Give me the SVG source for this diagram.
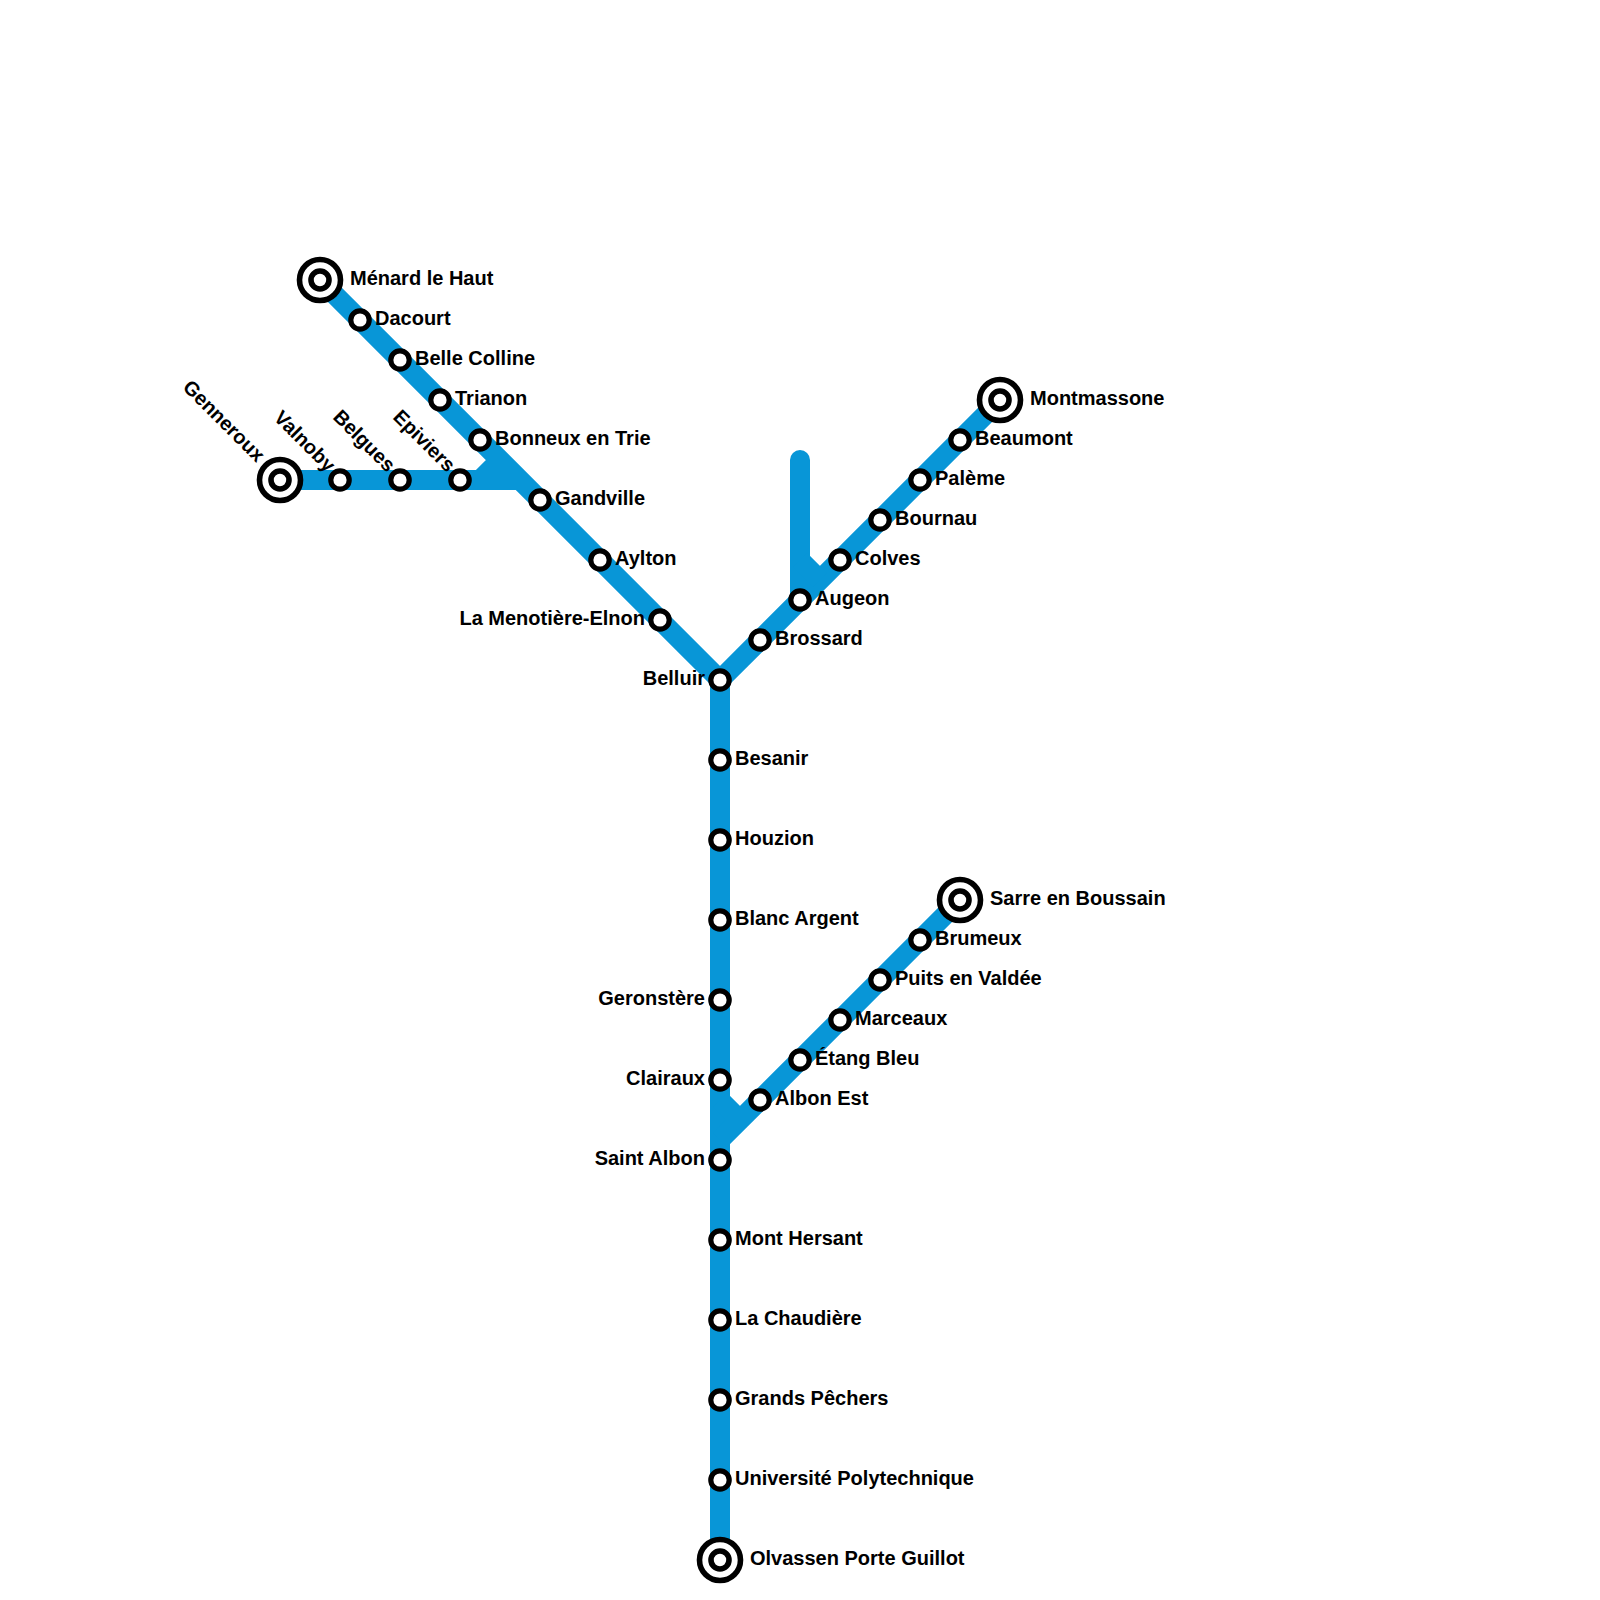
<svg xmlns="http://www.w3.org/2000/svg" width="1600" height="1600" viewBox="0 0 1600 1600">
<style>
.line{fill:none;stroke:#0896d7;stroke-width:20}
.st{fill:#fff;stroke:#000;stroke-width:5.2}
.t1{fill:#fff;stroke:#000;stroke-width:5.6}
.t2{fill:#fff;stroke:#000;stroke-width:5.6}
text{font-family:"Liberation Sans",Arial,sans-serif;font-weight:700;font-size:20px;fill:#000}
.e{text-anchor:end}
</style>
<defs>
<g id="stn"><circle class="st" r="9.2"/></g>
<g id="term"><circle class="t1" r="20.5"/><circle class="t2" r="9"/></g>
</defs>
<g id="connectors">
<path class="line" d="M320 280L720 680M1000 400L720 680M720 680V1560M280 480H520M480 480L500 460"/>
<path class="line" d="M800 600V460" stroke-linecap="round"/>
<path class="line" d="M800 560L820 580M960 900L720 1140M720 1100L740 1120"/>
</g>
<g id="n-menard"><use href="#term" x="320" y="280"/><text x="350" y="285">Ménard le Haut</text></g>
<g id="n-dacourt"><use href="#stn" x="360" y="320"/><text x="375" y="325">Dacourt</text></g>
<g id="n-belle-colline"><use href="#stn" x="400" y="360"/><text x="415" y="365">Belle Colline</text></g>
<g id="n-trianon"><use href="#stn" x="440" y="400"/><text x="455" y="405">Trianon</text></g>
<g id="n-bonneux"><use href="#stn" x="480" y="440"/><text x="495" y="445">Bonneux en Trie</text></g>
<g id="n-gandville"><use href="#stn" x="540" y="500"/><text x="555" y="505">Gandville</text></g>
<g id="n-aylton"><use href="#stn" x="600" y="560"/><text x="615" y="565">Aylton</text></g>
<g id="n-menotiere"><use href="#stn" x="660" y="620"/><text class="e" x="645" y="625">La Menotière-Elnon</text></g>
<g id="n-belluir"><use href="#stn" x="720" y="680"/><text class="e" x="705" y="685">Belluir</text></g>
<g id="n-brossard"><use href="#stn" x="760" y="640"/><text x="775" y="645">Brossard</text></g>
<g id="n-augeon"><use href="#stn" x="800" y="600"/><text x="815" y="605">Augeon</text></g>
<g id="n-colves"><use href="#stn" x="840" y="560"/><text x="855" y="565">Colves</text></g>
<g id="n-bournau"><use href="#stn" x="880" y="520"/><text x="895" y="525">Bournau</text></g>
<g id="n-paleme"><use href="#stn" x="920" y="480"/><text x="935" y="485">Palème</text></g>
<g id="n-beaumont"><use href="#stn" x="960" y="440"/><text x="975" y="445">Beaumont</text></g>
<g id="n-montmassone"><use href="#term" x="1000" y="400"/><text x="1030" y="405">Montmassone</text></g>
<g id="n-genneroux"><use href="#term" x="280" y="480"/><text class="e" transform="translate(256.5 463) rotate(45)">Genneroux</text></g>
<g id="n-valnoby"><use href="#stn" x="340" y="480"/><text class="e" transform="translate(327 473) rotate(45)">Valnoby</text></g>
<g id="n-belgues"><use href="#stn" x="400" y="480"/><text class="e" transform="translate(387 473) rotate(45)">Belgues</text></g>
<g id="n-epiviers"><use href="#stn" x="460" y="480"/><text class="e" transform="translate(447 473) rotate(45)">Epiviers</text></g>
<g id="n-besanir"><use href="#stn" x="720" y="760"/><text x="735" y="765">Besanir</text></g>
<g id="n-houzion"><use href="#stn" x="720" y="840"/><text x="735" y="845">Houzion</text></g>
<g id="n-blanc-argent"><use href="#stn" x="720" y="920"/><text x="735" y="925">Blanc Argent</text></g>
<g id="n-geronstere"><use href="#stn" x="720" y="1000"/><text class="e" x="705" y="1005">Geronstère</text></g>
<g id="n-clairaux"><use href="#stn" x="720" y="1080"/><text class="e" x="705" y="1085">Clairaux</text></g>
<g id="n-saint-albon"><use href="#stn" x="720" y="1160"/><text class="e" x="705" y="1165">Saint Albon</text></g>
<g id="n-mont-hersant"><use href="#stn" x="720" y="1240"/><text x="735" y="1245">Mont Hersant</text></g>
<g id="n-chaudiere"><use href="#stn" x="720" y="1320"/><text x="735" y="1325">La Chaudière</text></g>
<g id="n-grands-pechers"><use href="#stn" x="720" y="1400"/><text x="735" y="1405">Grands Pêchers</text></g>
<g id="n-universite"><use href="#stn" x="720" y="1480"/><text x="735" y="1485">Université Polytechnique</text></g>
<g id="n-olvassen"><use href="#term" x="720" y="1560"/><text x="750" y="1565">Olvassen Porte Guillot</text></g>
<g id="n-albon-est"><use href="#stn" x="760" y="1100"/><text x="775" y="1105">Albon Est</text></g>
<g id="n-etang-bleu"><use href="#stn" x="800" y="1060"/><text x="815" y="1065">Étang Bleu</text></g>
<g id="n-marceaux"><use href="#stn" x="840" y="1020"/><text x="855" y="1025">Marceaux</text></g>
<g id="n-puits"><use href="#stn" x="880" y="980"/><text x="895" y="985">Puits en Valdée</text></g>
<g id="n-brumeux"><use href="#stn" x="920" y="940"/><text x="935" y="945">Brumeux</text></g>
<g id="n-sarre"><use href="#term" x="960" y="900"/><text x="990" y="905">Sarre en Boussain</text></g>
</svg>
